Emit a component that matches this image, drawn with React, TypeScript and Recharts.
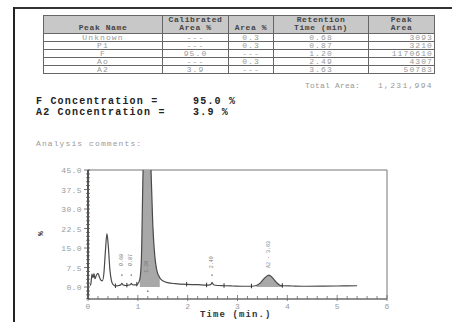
import React from 'react';
import { ComposedChart, Line, Area, Scatter, XAxis, YAxis, ReferenceArea } from 'recharts';

const peakNames = ['Unknown', 'P1', 'F', 'Ao', 'A2'];
const calibratedArea = ['---', '---', '95.0', '---', '3.9'];
const areaPercent = ['0.3', '0.3', '---', '0.3', '---'];
const retentionTime = ['0.68', '0.87', '1.20', '2.49', '3.63'];
const peakArea = ['3093', '3210', '1170610', '4307', '50783'];
const totalArea = '1,231,994';
const concNames = ['F', 'A2'];
const concValues = ['95.0', '3.9'];

const times = [0.04, 0.06, 0.08, 0.10, 0.12, 0.14, 0.17, 0.20, 0.23, 0.26, 0.29, 0.32, 0.35, 0.38, 0.41, 0.44, 0.47, 0.50, 0.55, 0.62, 0.66, 0.68, 0.70, 0.76, 0.80, 0.85, 0.87, 0.89, 0.95, 1.00, 1.04, 1.07, 1.10, 1.14, 1.20, 1.26, 1.30, 1.34, 1.38, 1.44, 1.51, 1.60, 1.75, 1.98, 2.20, 2.38, 2.46, 2.49, 2.52, 2.60, 2.73, 2.90, 3.10, 3.28, 3.38, 3.46, 3.54, 3.63, 3.70, 3.78, 3.85, 3.90, 4.10, 4.40, 4.70, 5.00, 5.20, 5.40];
const signal = [0.5, 1.5, 5.0, 3.6, 5.2, 3.2, 4.6, 5.3, 3.8, 2.6, 2.4, 5.5, 14.0, 20.5, 15.0, 6.5, 2.5, 1.0, 0.4, 0.6, 0.9, 1.4, 0.9, 0.6, 0.7, 0.9, 1.4, 0.9, 0.8, 1.2, 3.0, 10.0, 40.0, 75, 90, 48, 24, 12, 6.5, 3.6, 2.3, 1.7, 1.3, 1.0, 0.9, 0.7, 0.9, 1.7, 0.9, 0.6, 0.5, 0.4, 0.3, 0.3, 0.6, 1.6, 3.4, 4.6, 3.6, 1.8, 0.7, 0.5, 0.4, 0.3, 0.35, 0.4, 0.45, 0.5];
const peakWindowStart = [1.02, 3.33];
const peakWindowEnd = [1.46, 3.92];

const markTimes = [0.55, 0.78, 0.98, 1.98, 2.38, 2.73, 3.28, 3.90];
const markValues = [0.4, 0.65, 1.0, 1.0, 0.7, 0.5, 0.3, 0.5];

const labelTimes = [0.68, 0.87, 1.18, 2.49, 3.63];
const labelValues = [10.4, 10.4, 7.8, 9.5, 12.5];
const labelTexts = ['0.68', '0.87', '1.20', '2.49', 'A2 - 3.63'];
const plusTimes = [0.68, 0.87, 2.49, 1.2];
const plusValues = [4.6, 4.6, 4.6, -1.6];

const yMajorLabels = ['0.0', '7.5', '15.0', '22.5', '30.0', '37.5', '45.0'];
const xMajorLabels = ['0', '1', '2', '3', '4', '5', '6'];

const yTicks: number[] = [];
for (let i = -3; i <= 30; i++) yTicks.push(Math.round(i * 1.5 * 10) / 10);
const xTicks: number[] = [];
for (let i = 0; i <= 30; i++) xTicks.push(Math.round(i * 0.2 * 10) / 10);

const inWindow = (t: number) =>
  peakWindowStart.some((s, i) => t >= s && t <= peakWindowEnd[i]);

const traceData = times.map((t, i) => ({
  t,
  signal: signal[i],
  fill: inWindow(t) ? signal[i] : null,
}));
const markData = markTimes.map((t, i) => ({ t, v: markValues[i] }));
const labelData = labelTimes.map((t, i) => ({ t, v: labelValues[i], text: labelTexts[i] }));
const plusData = plusTimes.map((t, i) => ({ t, v: plusValues[i] }));

const MONO = '"Liberation Mono", "DejaVu Sans Mono", monospace';

const YTick = (props: any) => {
  const { x, y, payload } = props;
  const v = payload.value;
  const idx = Math.round(v / 7.5);
  const major = v >= 0 && Math.abs(v / 7.5 - idx) < 1e-6;
  return (
    <g>
      <line x1={x - (major ? 4 : 2)} x2={x + 2} y1={y} y2={y} stroke="#555" strokeWidth={0.8} />
      {major && (
        <text x={x - 6} y={y + 3} textAnchor="end" fontSize={8} fill="#9a9a9a" fontFamily={MONO} letterSpacing={0.4}>
          {yMajorLabels[idx]}
        </text>
      )}
    </g>
  );
};

const XTick = (props: any) => {
  const { x, y, payload } = props;
  const v = payload.value;
  const idx = Math.round(v);
  const major = Math.abs(v - idx) < 1e-6;
  return (
    <g>
      <line x1={x} x2={x} y1={y - (major ? 4 : 3)} y2={y + (major ? 2 : 0)} stroke="#666" strokeWidth={0.8} />
      {major && (
        <text x={x} y={y + 10} textAnchor="middle" fontSize={8} fill="#9a9a9a" fontFamily={MONO}>
          {xMajorLabels[idx]}
        </text>
      )}
    </g>
  );
};

const MarkShape = (props: any) => {
  const { cx, cy } = props;
  return <line x1={cx} x2={cx} y1={cy - 2.5} y2={cy + 2} stroke="#333" strokeWidth={1} />;
};

const LabelShape = (props: any) => {
  const { cx, cy, payload } = props;
  return (
    <text
      x={cx}
      y={cy}
      transform={`rotate(-90 ${cx} ${cy})`}
      textAnchor="middle"
      dominantBaseline="central"
      fontSize={5}
      fill="#777"
      fontFamily={MONO}
    >
      {payload.text}
    </text>
  );
};

const PlusShape = (props: any) => {
  const { cx, cy } = props;
  return <circle cx={cx} cy={cy} r={0.9} fill="#888" />;
};

const cellBase: React.CSSProperties = {
  border: '1px solid #666',
  padding: 0,
  fontSize: 8,
  lineHeight: '7px',
  height: 7,
  color: '#999',
  overflow: 'hidden',
  whiteSpace: 'nowrap',
  letterSpacing: 1.1,
};

const headerCell: React.CSSProperties = {
  ...cellBase,
  background: '#c8c8c8',
  color: '#444',
  fontWeight: 'bold',
  height: 16,
  lineHeight: '8px',
  verticalAlign: 'bottom',
  textAlign: 'center',
  letterSpacing: 0.6,
  paddingBottom: 1,
};

const concStyle: React.CSSProperties = {
  position: 'absolute',
  fontSize: 10,
  lineHeight: '10px',
  fontWeight: 'bold',
  color: '#222',
  whiteSpace: 'pre',
  letterSpacing: 1.2,
};

export default function App() {
  const colWidths = [119, 66, 45, 95, 66];
  return (
    <div
      style={{
        position: 'fixed',
        left: 0,
        top: 0,
        width: 459,
        height: 322,
        background: '#fff',
        overflow: 'hidden',
        fontFamily: MONO,
      }}
    >
      <div style={{ position: 'absolute', left: 14, top: 7, width: 438, height: 1.5, background: '#333' }} />
      <div style={{ position: 'absolute', left: 13, top: 7, width: 2, height: 315, background: '#222' }} />

      <table
        style={{
          position: 'absolute',
          left: 43,
          top: 15,
          width: 391,
          borderCollapse: 'collapse',
          tableLayout: 'fixed',
          border: '1.5px solid #555',
          fontFamily: MONO,
        }}
      >
        <colgroup>
          {colWidths.map((w, i) => (
            <col key={i} style={{ width: w }} />
          ))}
        </colgroup>
        <tbody>
          <tr>
            <td style={headerCell}>Peak Name</td>
            <td style={headerCell}>Calibrated<br />Area %</td>
            <td style={headerCell}>Area %</td>
            <td style={headerCell}>Retention<br />Time (min)</td>
            <td style={headerCell}>Peak<br />Area</td>
          </tr>
          {peakNames.map((n, i) => (
            <tr key={n}>
              <td style={{ ...cellBase, textAlign: 'center' }}>{n}</td>
              <td style={{ ...cellBase, textAlign: 'center' }}>{calibratedArea[i]}</td>
              <td style={{ ...cellBase, textAlign: 'center' }}>{areaPercent[i]}</td>
              <td style={{ ...cellBase, textAlign: 'center' }}>{retentionTime[i]}</td>
              <td style={{ ...cellBase, textAlign: 'right', paddingRight: 1 }}>{peakArea[i]}</td>
            </tr>
          ))}
        </tbody>
      </table>

      <div style={{ position: 'absolute', left: 305, top: 81, fontSize: 8, color: '#999', letterSpacing: 0.2, whiteSpace: 'pre' }}>
        Total Area:
      </div>
      <div style={{ position: 'absolute', left: 378, top: 81, fontSize: 8, color: '#999', letterSpacing: 1.3, whiteSpace: 'pre' }}>
        {totalArea}
      </div>

      {concNames.map((n, i) => (
        <React.Fragment key={n}>
          <div style={{ ...concStyle, left: 36, top: 97 + i * 11 }}>{n + ' Concentration ='}</div>
          <div style={{ ...concStyle, left: 193, top: 97 + i * 11 }}>{concValues[i] + ' %'}</div>
        </React.Fragment>
      ))}

      <div style={{ position: 'absolute', left: 36, top: 139, fontSize: 8, color: '#9a9a9a', letterSpacing: 1.1, whiteSpace: 'pre' }}>
        Analysis comments:
      </div>

      <div style={{ position: 'absolute', left: 0, top: 160 }}>
        <ComposedChart
          width={459}
          height={162}
          data={traceData}
          margin={{ top: 10, right: 72, bottom: 0, left: 0 }}
        >
          <XAxis
            dataKey="t"
            type="number"
            domain={[0, 6]}
            ticks={xTicks}
            interval={0}
            tickSize={0}
            tickMargin={0}
            tickLine={false}
            height={23}
            stroke="#666"
            tick={<XTick />}
            allowDataOverflow
          />
          <YAxis
            type="number"
            domain={[-4.6, 45]}
            ticks={yTicks}
            interval={0}
            tickSize={0}
            tickMargin={0}
            tickLine={false}
            width={88}
            stroke="#333"
            strokeWidth={1.5}
            tick={<YTick />}
            allowDataOverflow
          />
          <ReferenceArea x1={0} x2={6} y1={-4.6} y2={45} fill="none" stroke="#777" strokeWidth={1} ifOverflow="visible" />
          <Area
            dataKey="fill"
            type="monotone"
            baseValue={0}
            stroke="none"
            fill="#a8a8a8"
            fillOpacity={1}
            connectNulls={false}
            isAnimationActive={false}
            dot={false}
            activeDot={false}
          />
          <Line
            dataKey="signal"
            type="monotone"
            stroke="#4a4a4a"
            strokeWidth={1.2}
            dot={false}
            activeDot={false}
            isAnimationActive={false}
          />
          <Scatter data={markData} dataKey="v" shape={<MarkShape />} isAnimationActive={false} />
          <Scatter data={plusData} dataKey="v" shape={<PlusShape />} isAnimationActive={false} />
          <Scatter data={labelData} dataKey="v" shape={<LabelShape />} isAnimationActive={false} />
        </ComposedChart>
      </div>

      <div
        style={{
          position: 'absolute',
          left: 38,
          top: 229,
          fontSize: 8,
          fontWeight: 'bold',
          color: '#333',
          transform: 'rotate(-90deg)',
        }}
      >
        %
      </div>
      <div
        style={{
          position: 'absolute',
          left: 200,
          top: 310,
          fontSize: 9,
          lineHeight: '10px',
          fontWeight: 'bold',
          color: '#333',
          letterSpacing: 1.1,
          whiteSpace: 'pre',
        }}
      >
        Time (min.)
      </div>
    </div>
  );
}
